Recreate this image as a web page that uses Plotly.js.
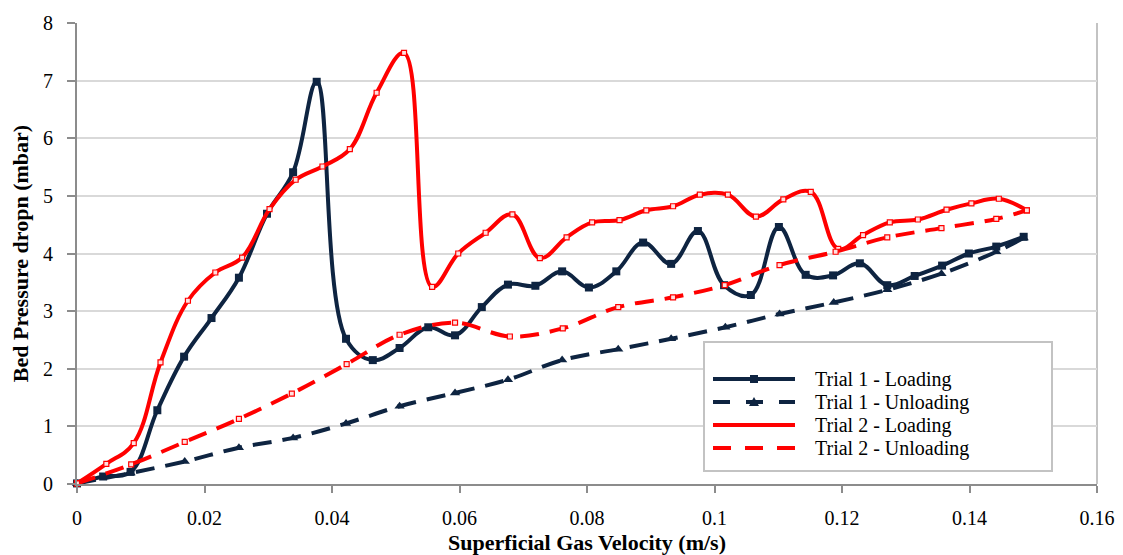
<!DOCTYPE html>
<html>
<head>
<meta charset="utf-8">
<script src="https://cdn.plot.ly/plotly-3.0.1.min.js"></script>
<style>
  html, body { margin: 0; padding: 0; background: #ffffff; }
  #chart { width: 1123px; height: 555px; }
</style>
</head>
<body>
<div id="chart"></div>
<script>
// Bed pressure drop vs. superficial gas velocity, two loading/unloading trials

const seriesNames = ["Trial 1 - Loading", "Trial 1 - Unloading", "Trial 2 - Loading", "Trial 2 - Unloading"];

const t1LoadX = [0, 0.0041, 0.0084, 0.0126, 0.0168, 0.0211, 0.0254, 0.0298, 0.0339, 0.0376,
                 0.0422, 0.0464, 0.0506, 0.0551, 0.0593, 0.0635, 0.0676, 0.0719, 0.0761, 0.0803,
                 0.0846, 0.0888, 0.0932, 0.0974, 0.1015, 0.1057, 0.1101, 0.1143, 0.1186, 0.1228,
                 0.1271, 0.1314, 0.1357, 0.1399, 0.1442, 0.1485];
const t1LoadY = [0.01, 0.13, 0.21, 1.28, 2.21, 2.88, 3.58, 4.69, 5.41, 6.98,
                 2.52, 2.15, 2.36, 2.72, 2.58, 3.07, 3.46, 3.44, 3.69, 3.41,
                 3.69, 4.19, 3.82, 4.39, 3.45, 3.28, 4.46, 3.63, 3.62, 3.83,
                 3.45, 3.61, 3.79, 4.00, 4.12, 4.29];

const t1UnloadX = [0, 0.0084, 0.0169, 0.0254, 0.0339, 0.0422, 0.0506, 0.0593, 0.0676, 0.0761,
                   0.0849, 0.0932, 0.1017, 0.1102, 0.1187, 0.1271, 0.1356, 0.1442, 0.1485];
const t1UnloadY = [0.01, 0.19, 0.39, 0.63, 0.80, 1.05, 1.35, 1.58, 1.81, 2.15,
                   2.34, 2.52, 2.72, 2.95, 3.15, 3.37, 3.65, 4.03, 4.27];

const t2LoadX = [0, 0.0046, 0.0089, 0.0131, 0.0174, 0.0217, 0.0259, 0.0302, 0.0343, 0.0385,
                 0.0428, 0.0470, 0.0513, 0.0557, 0.0598, 0.0641, 0.0683, 0.0726, 0.0768, 0.0808,
                 0.0851, 0.0893, 0.0935, 0.0977, 0.1021, 0.1065, 0.1108, 0.1151, 0.1194, 0.1233,
                 0.1275, 0.1319, 0.1364, 0.1403, 0.1446, 0.1490];
const t2LoadY = [0.01, 0.35, 0.71, 2.11, 3.18, 3.67, 3.93, 4.77, 5.28, 5.51,
                 5.81, 6.79, 7.48, 3.42, 4.00, 4.36, 4.68, 3.92, 4.28, 4.54,
                 4.58, 4.75, 4.82, 5.02, 5.02, 4.64, 4.94, 5.07, 4.08, 4.32,
                 4.54, 4.59, 4.76, 4.87, 4.95, 4.75];

const t2UnloadX = [0, 0.0085, 0.0169, 0.0254, 0.0337, 0.0423, 0.0506, 0.0593, 0.0679, 0.0762,
                   0.0849, 0.0935, 0.1016, 0.1102, 0.1190, 0.1271, 0.1356, 0.1442, 0.1490];
const t2UnloadY = [0.01, 0.34, 0.73, 1.13, 1.57, 2.08, 2.59, 2.80, 2.56, 2.70,
                   3.07, 3.24, 3.45, 3.80, 4.03, 4.28, 4.44, 4.60, 4.75];

const xTicks = [0, 0.02, 0.04, 0.06, 0.08, 0.1, 0.12, 0.14, 0.16];
const yTicks = [0, 1, 2, 3, 4, 5, 6, 7, 8];

const SERIF = "'Liberation Serif', 'Times New Roman', Times, serif";
const NAVY = "#0e2441";
const RED = "#ff0000";
const DASH = "19px,11px";
const LW = 4;

const traces = [
  {
    x: t1LoadX, y: t1LoadY, name: seriesNames[0], type: "scatter", mode: "lines+markers",
    line: { color: NAVY, width: LW, shape: "spline", smoothing: 1.1 },
    marker: { symbol: "square", size: 8, color: NAVY },
    cliponaxis: false
  },
  {
    x: t1UnloadX, y: t1UnloadY, name: seriesNames[1], type: "scatter", mode: "lines+markers",
    line: { color: NAVY, width: LW, dash: DASH, shape: "spline", smoothing: 1 },
    marker: { symbol: "triangle-up", size: 9, color: NAVY },
    cliponaxis: false
  },
  {
    x: t2LoadX, y: t2LoadY, name: seriesNames[2], type: "scatter", mode: "lines+markers",
    line: { color: RED, width: LW, shape: "spline", smoothing: 1.1 },
    marker: { symbol: "square", size: 5, color: "#ffe0e0", line: { color: RED, width: 1.2 } },
    cliponaxis: false
  },
  {
    x: t2UnloadX, y: t2UnloadY, name: seriesNames[3], type: "scatter", mode: "lines+markers",
    line: { color: RED, width: LW, dash: DASH, shape: "spline", smoothing: 1 },
    marker: { symbol: "square", size: 5, color: "#ffe0e0", line: { color: RED, width: 1.2 } },
    cliponaxis: false
  }
];

// Plot-area geometry (pixels) used to place the boxed key in paper units
const L = 77, R = 1097, T = 23, B = 484;
const px = v => (v - L) / (R - L);
const py = v => (B - v) / (B - T);

const shapes = [
  // right border of the plot frame
  { type: "line", xref: "paper", yref: "paper", x0: 1, x1: 1, y0: 0, y1: 1,
    line: { color: "#c3c3c3", width: 2 }, layer: "below" },
  // key box
  { type: "rect", xref: "paper", yref: "paper", x0: px(704), x1: px(1052), y0: py(471), y1: py(342),
    fillcolor: "#ffffff", line: { color: "#c3c3c3", width: 2 }, layer: "above" }
];
const annotations = [];

const keyRows = [379, 402, 425, 448];
const keyStyle = [
  { color: NAVY, dash: "solid", mark: "square" },
  { color: NAVY, dash: "17px,16px", mark: "triangle" },
  { color: RED, dash: "solid", mark: null },
  { color: RED, dash: "18px,14px", mark: null }
];
keyRows.forEach((ry, i) => {
  const s = keyStyle[i];
  shapes.push({ type: "line", xref: "paper", yref: "paper", x0: px(713), x1: px(795), y0: py(ry), y1: py(ry),
    line: { color: s.color, width: LW, dash: s.dash }, layer: "above" });
  if (s.mark === "square") {
    shapes.push({ type: "rect", xref: "paper", yref: "paper", x0: px(750), x1: px(758), y0: py(ry + 4), y1: py(ry - 4),
      fillcolor: s.color, line: { width: 0 }, layer: "above" });
  } else if (s.mark === "triangle") {
    shapes.push({ type: "path", xref: "paper", yref: "paper",
      path: `M ${px(749)} ${py(ry + 4)} L ${px(759)} ${py(ry + 4)} L ${px(754)} ${py(ry - 5)} Z`,
      fillcolor: s.color, line: { width: 0 }, layer: "above" });
  }
  annotations.push({ xref: "paper", yref: "paper", x: px(813), y: py(ry), xanchor: "left", yanchor: "middle",
    text: seriesNames[i], showarrow: false, font: { family: SERIF, size: 20, color: "#000000" } });
});

const layout = {
  width: 1123, height: 555,
  margin: { l: L, r: 1123 - R, t: T, b: 555 - B },
  paper_bgcolor: "#ffffff", plot_bgcolor: "#ffffff",
  font: { family: SERIF, size: 20, color: "#000000" },
  showlegend: false,
  xaxis: {
    range: [0, 0.16], tickvals: xTicks, ticktext: xTicks.map(String),
    showgrid: false, zeroline: false,
    showline: true, linecolor: "#8c8c8c", linewidth: 2,
    ticks: "outside", ticklen: 7, tickwidth: 2, tickcolor: "#8c8c8c",
    ticklabelstandoff: 8,
    tickfont: { family: SERIF, size: 20, color: "#000000" },
    title: { text: "Superficial Gas Velocity (m/s)", standoff: 10,
      font: { family: SERIF, size: 22, color: "#000000", weight: "bold" } },
    automargin: false
  },
  yaxis: {
    range: [0, 8], tickvals: yTicks, ticktext: yTicks.map(String),
    showgrid: true, gridcolor: "#d9d9d9", gridwidth: 2, zeroline: false,
    showline: true, linecolor: "#8c8c8c", linewidth: 2,
    ticks: "outside", ticklen: 8, tickwidth: 2, tickcolor: "#8c8c8c",
    ticklabelstandoff: 10,
    tickfont: { family: SERIF, size: 20, color: "#000000" },
    title: { text: "Bed Pressure dropn (mbar)", standoff: 8,
      font: { family: SERIF, size: 22, color: "#000000", weight: "bold" } },
    automargin: false
  },
  shapes: shapes,
  annotations: annotations
};

Plotly.newPlot("chart", traces, layout, { displayModeBar: false, staticPlot: true });
</script>
</body>
</html>
